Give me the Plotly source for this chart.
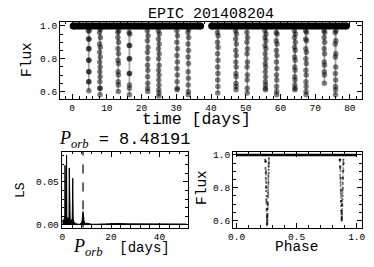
import plotly.graph_objects as go

W, H = 374, 267

# ---------------- data ----------------
title_top = "EPIC 201408204"
p_orb = 8.48191

# out-of-eclipse baseline segments (days)
base_start = [0.3, 40.2]
base_end = [37.0, 79.0]
base_flux = 1.0

# eclipse mid-times (days) and flux samples (time-ordered)
ecl_times = [4.80, 8.02, 13.28, 16.50, 21.76, 24.98, 30.25, 33.47, 41.95,
             47.21, 50.43, 55.69, 58.91, 64.17, 67.39, 72.66, 75.88]
ecl_flux = [
    [0.97, 0.92, 0.86, 0.79, 0.72, 0.66, 0.605, 0.66, 0.72, 0.79, 0.86, 0.92, 0.97],
    [0.96, 0.89, 0.84, 0.78, 0.72, 0.66, 0.62, 0.58, 0.62, 0.69, 0.75, 0.81, 0.87, 0.93, 0.98],
    [0.96, 0.93, 0.86, 0.79, 0.72, 0.66, 0.60, 0.64, 0.70, 0.77, 0.83, 0.90, 0.97],
    [0.96, 0.88, 0.80, 0.71, 0.62, 0.58, 0.64, 0.71, 0.80, 0.88, 0.95],
    [0.97, 0.91, 0.84, 0.76, 0.69, 0.62, 0.60, 0.65, 0.73, 0.80, 0.87, 0.94],
    [0.97, 0.92, 0.86, 0.80, 0.73, 0.67, 0.61, 0.57, 0.59, 0.64, 0.70, 0.76, 0.83, 0.89, 0.95],
    [0.97, 0.90, 0.82, 0.74, 0.66, 0.61, 0.62, 0.70, 0.78, 0.86, 0.94],
    [0.96, 0.89, 0.81, 0.72, 0.64, 0.58, 0.60, 0.68, 0.77, 0.85, 0.93, 0.98],
    [0.96, 0.90, 0.83, 0.75, 0.67, 0.59, 0.63, 0.71, 0.79, 0.87, 0.94],
    [0.97, 0.92, 0.85, 0.78, 0.71, 0.65, 0.61, 0.63, 0.69, 0.75, 0.82, 0.89, 0.95],
    [0.96, 0.90, 0.83, 0.75, 0.67, 0.59, 0.62, 0.70, 0.78, 0.86, 0.93],
    [0.97, 0.93, 0.88, 0.83, 0.77, 0.72, 0.66, 0.62, 0.61, 0.64, 0.69, 0.75, 0.80, 0.86, 0.91, 0.95],
    [0.96, 0.91, 0.85, 0.78, 0.70, 0.63, 0.58, 0.60, 0.67, 0.74, 0.82, 0.89, 0.95],
    [0.97, 0.93, 0.87, 0.81, 0.75, 0.69, 0.64, 0.61, 0.62, 0.67, 0.73, 0.79, 0.85, 0.90, 0.95],
    [0.97, 0.92, 0.86, 0.80, 0.73, 0.66, 0.60, 0.58, 0.63, 0.70, 0.77, 0.84, 0.91, 0.96],
    [0.97, 0.93, 0.86, 0.78, 0.72, 0.65, 0.70, 0.76, 0.83, 0.90, 0.96],
    [0.96, 0.89, 0.81, 0.71, 0.63, 0.58, 0.61, 0.67, 0.75, 0.83, 0.91, 0.97],
]
cadence = 0.0204      # days between samples
t_ref = -2.62         # folding reference epoch (days)

# Lomb-Scargle periodogram
ls_period = [0.05, 0.3, 0.6, 0.85, 0.98, 1.06, 1.14, 1.3, 1.45, 1.58,
             1.70, 1.82, 1.95, 2.1, 2.3, 2.5, 2.7, 2.83, 2.96, 3.2,
             3.5, 3.8, 4.05, 4.24, 4.43, 4.8, 5.3, 6.0, 7.0, 7.8,
             8.1, 8.48, 8.9, 9.3, 10.0, 10.8, 12, 14, 17, 20,
             23, 27, 32, 37, 42, 47, 51]
ls_power = [0.004, 0.006, 0.003, 0.008, 0.012, 0.069, 0.010, 0.006, 0.009, 0.012,
            0.081, 0.011, 0.006, 0.008, 0.005, 0.007, 0.010, 0.066, 0.009, 0.004,
            0.006, 0.005, 0.008, 0.054, 0.007, 0.003, 0.002, 0.001, 0.0008, 0.002,
            0.005, 0.0155, 0.005, 0.0015, 0.002, 0.0012, 0.0008, 0.0008, 0.0012, 0.0018,
            0.0016, 0.0012, 0.0012, 0.0015, 0.0018, 0.0014, 0.0010]

# ---------------- build traces ----------------
lc_t, lc_f = [], []
ph_x, ph_y = [], []
for tc, fl in zip(ecl_times, ecl_flux):
    n = len(fl)
    ts = [tc + (i - (n - 1) / 2) * cadence for i in range(n)]
    lc_t += [ts[0] - cadence] + ts + [ts[-1] + cadence, None]
    lc_f += [base_flux] + fl + [base_flux, None]
    for t, f in zip(ts, fl):
        ph_x.append(((t - t_ref) / p_orb) % 1.0)
        ph_y.append(f)

bx, by = [], []
for s, e in zip(base_start, base_end):
    bx += [s, e, None]
    by += [base_flux, base_flux, None]

fig = go.Figure()
fig.add_trace(go.Scatter(x=lc_t, y=lc_f, mode="lines+markers",
                         line=dict(color="rgba(0,0,0,0.35)", width=1.5),
                         marker=dict(color="rgba(0,0,0,0.5)", size=5.5),
                         xaxis="x", yaxis="y", showlegend=False))
fig.add_trace(go.Scatter(x=bx, y=by, mode="lines+markers",
                         line=dict(color="black", width=7),
                         marker=dict(color="black", size=7),
                         xaxis="x", yaxis="y", showlegend=False))

fig.add_trace(go.Scatter(x=ls_period, y=ls_power, mode="lines",
                         line=dict(color="black", width=1),
                         fill="tozeroy", fillcolor="black",
                         xaxis="x2", yaxis="y2", showlegend=False))

fig.add_trace(go.Scatter(x=[0.0, 1.0], y=[base_flux, base_flux], mode="lines",
                         line=dict(color="black", width=2.5),
                         xaxis="x3", yaxis="y3", showlegend=False))
fig.add_trace(go.Scatter(x=ph_x, y=ph_y, mode="markers",
                         marker=dict(color="rgba(0,0,0,0.45)", size=2),
                         xaxis="x3", yaxis="y3", showlegend=False))

fig.add_shape(type="line", xref="x2", yref="y2 domain", x0=p_orb, x1=p_orb,
              y0=0, y1=1, line=dict(color="black", width=1.2, dash="dash"))

# ---------------- layout ----------------
def dx(a, b):
    return [a / W, b / W]

def dy(top, bottom):
    return [1 - bottom / H, 1 - top / H]

mono = "Liberation Mono"
tickfont = dict(family=mono, size=9.5, color="black")

def ax(**kw):
    d = dict(showline=True, linecolor="black", linewidth=1, mirror="allticks",
             ticks="inside", ticklen=5, tickwidth=1, tickcolor="black",
             showgrid=False, zeroline=False, tickfont=tickfont, automargin=False)
    d.update(kw)
    return d

def minor(dt):
    return dict(ticks="inside", ticklen=2.5, tickwidth=1, tickcolor="black",
                dtick=dt, showgrid=False)

fig.update_layout(
    width=W, height=H, margin=dict(l=0, r=0, t=0, b=0, autoexpand=False),
    paper_bgcolor="white", plot_bgcolor="white", showlegend=False,
    xaxis=ax(domain=dx(60, 362), range=[-3.5, 83.5], dtick=10, tick0=0,
             minor=minor(2), anchor="y"),
    yaxis=ax(domain=dy(21.5, 98.5), range=[0.557, 1.027], dtick=0.2, tick0=0.6,
             tickformat=".1f", minor=minor(0.05), anchor="x"),
    xaxis2=ax(domain=dx(61.7, 187.5), range=[-0.3, 51.5], dtick=20, tick0=0,
              minor=minor(4), anchor="y2"),
    yaxis2=ax(domain=dy(151.5, 227.5), range=[-0.003, 0.085], dtick=0.05, tick0=0,
              tickformat=".2f", minor=minor(0.01), anchor="x2"),
    xaxis3=ax(domain=dx(233, 361.5), range=[-0.03, 1.04], dtick=0.5, tick0=0,
              tickformat=".1f", minor=minor(0.1), anchor="y3"),
    yaxis3=ax(domain=dy(151.5, 227.5), range=[0.558, 1.021], dtick=0.2, tick0=0.6,
              tickformat=".1f", minor=minor(0.05), anchor="x3"),
)

def ann(text, px, py, size, angle=0, family=mono):
    fig.add_annotation(text=text, x=px / W, y=1 - py / H, xref="paper", yref="paper",
                       xanchor="center", yanchor="middle", showarrow=False,
                       textangle=angle, font=dict(family=family, size=size, color="black"))

serif = "font-family:'Liberation Serif'"
ann(title_top, 211, 14, 15)
ann("time [days]", 196, 119, 16.5)
ann("Flux", 27, 60, 14.5, angle=-90)
ann(f"<span style=\"{serif};font-size:18px\"><i>P</i><sub><i>orb</i></sub></span> = {p_orb}",
    125, 139, 17)
ann(f"<span style=\"{serif};font-size:18px\"><i>P</i><sub><i>orb</i></sub></span>  [days]",
    121, 247, 14)
ann("LS", 20, 190, 13, angle=-90)
ann("Flux", 202, 188, 14.5, angle=-90)
ann("Phase", 297, 247, 14.5)

fig.write_html("out.html", config={"displayModeBar": False},
               post_script="document.body.style.margin='0';document.body.style.padding='0';")
